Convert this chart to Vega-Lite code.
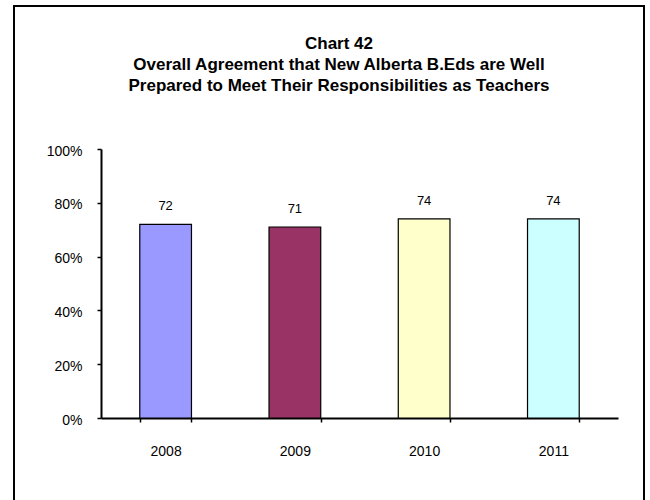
{
  "$schema": "https://vega.github.io/schema/vega-lite/v6.json",
  "autosize": "none",
  "width": 630,
  "height": 494,
  "padding": {"left": 14, "top": 6, "right": 6, "bottom": 0},
  "background": "white",
  "title": {
    "text": ["Chart 42", "Overall Agreement that New Alberta B.Eds are Well", "Prepared to Meet Their Responsibilities as Teachers"],
    "orient": "top",
    "anchor": "middle",
    "frame": "group",
    "font": "Liberation Sans",
    "fontSize": 17,
    "fontWeight": "bold",
    "lineHeight": 21,
    "color": "black",
    "baseline": "top",
    "offset": -89,
    "dx": 10
  },
  "config": {
    "view": {"stroke": "black", "strokeWidth": 2, "strokeDash": [1124, 630, 494]},
    "axis": {"labelFont": "Liberation Sans", "labelFontSize": 14, "labelColor": "black", "domainColor": "black", "tickColor": "black", "grid": false, "title": null}
  },
  "data": {
    "values": [
      {"year": "2008", "value": 72},
      {"year": "2009", "value": 71},
      {"year": "2010", "value": 74},
      {"year": "2011", "value": 74}
    ]
  },
  "encoding": {
    "x": {
      "field": "year",
      "type": "nominal",
      "sort": null,
      "scale": {"range": [87, 604], "paddingInner": 0.6, "paddingOuter": 0.3},
      "axis": {"labelAngle": 0, "tickBand": "extent", "tickSize": 4, "domainWidth": 2, "tickWidth": 1.5, "labelPadding": 22, "offset": -82}
    },
    "y": {
      "field": "value",
      "type": "quantitative",
      "scale": {"domain": [0, 100], "range": [412, 143], "nice": false},
      "axis": {"values": [0, 20, 40, 60, 80, 100], "labelExpr": "datum.value + '%'", "tickSize": 4, "domainWidth": 2, "tickWidth": 1.5, "labelPadding": 15, "labelOffset": 2, "offset": -87}
    }
  },
  "layer": [
    {
      "mark": {"type": "bar", "stroke": "black", "strokeWidth": 1.2, "opacity": 1},
      "encoding": {
        "color": {"field": "year", "type": "nominal", "scale": {"range": ["#9999FF", "#993366", "#FFFFCC", "#CCFFFF"]}, "legend": null}
      }
    },
    {
      "mark": {"type": "text", "baseline": "alphabetic", "dy": -14, "font": "Liberation Sans", "fontSize": 13, "color": "black"},
      "encoding": {"text": {"field": "value", "type": "quantitative"}}
    }
  ]
}
